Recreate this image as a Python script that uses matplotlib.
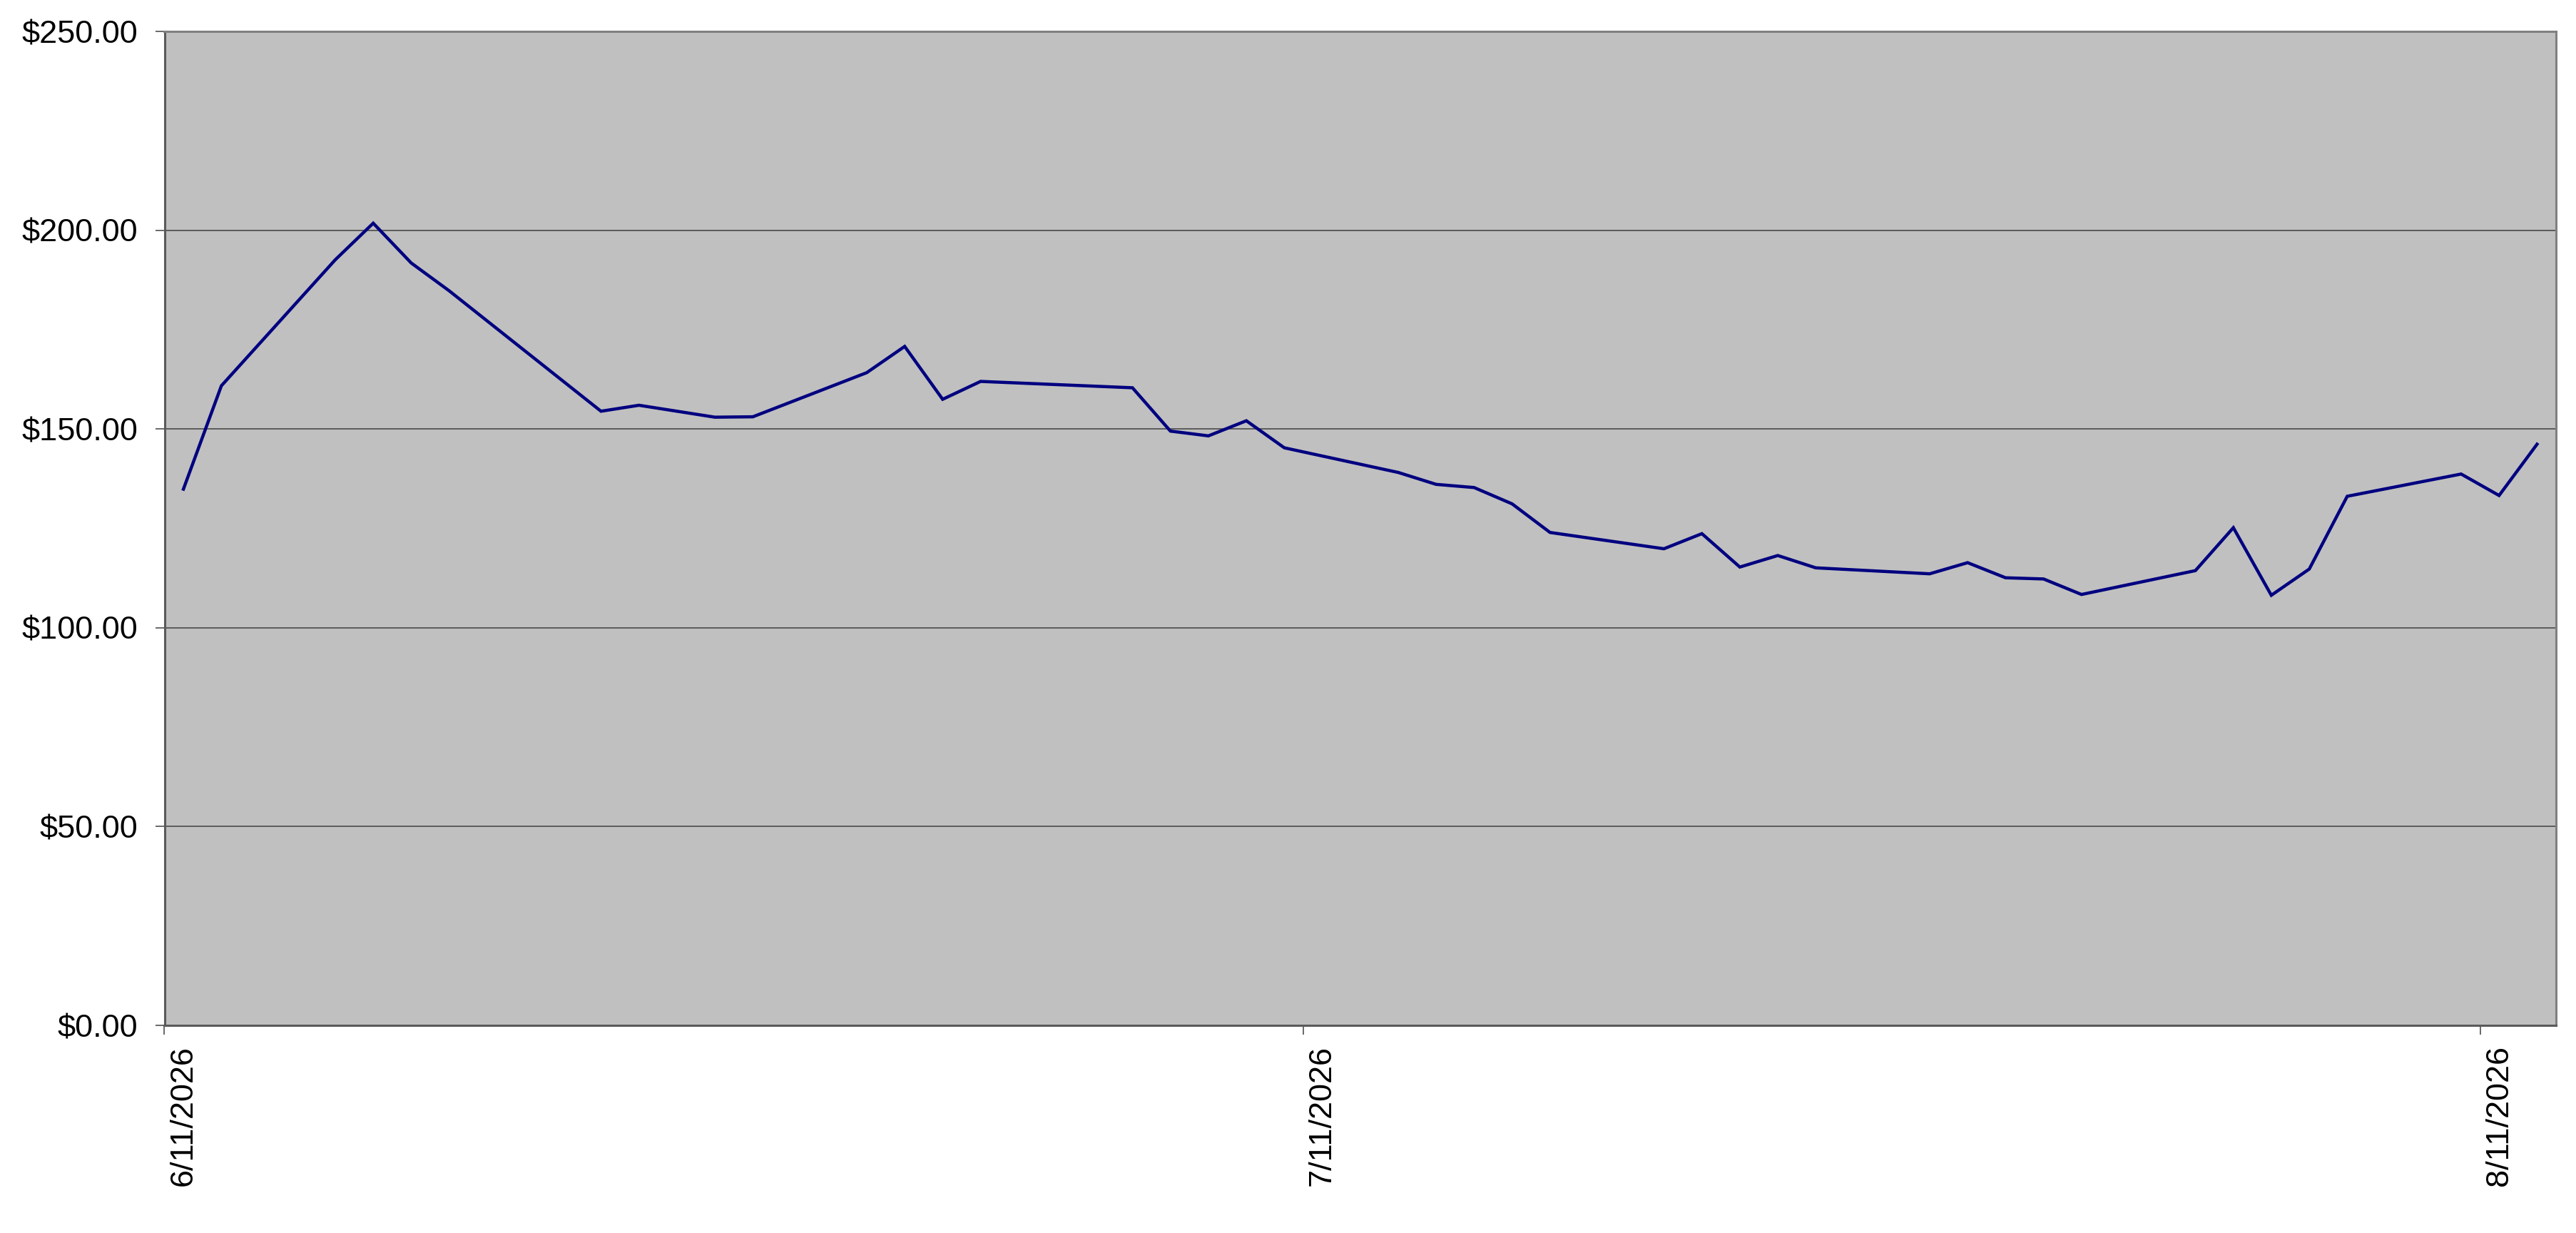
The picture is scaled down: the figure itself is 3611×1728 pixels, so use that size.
import matplotlib
matplotlib.use("Agg")
import matplotlib.pyplot as plt
import matplotlib.dates as mdates
import matplotlib.ticker as mticker
import pandas as pd

# ---- data ----
dates = ['2026-06-11', '2026-06-12', '2026-06-15', '2026-06-16', '2026-06-17', '2026-06-18',
         '2026-06-22', '2026-06-23', '2026-06-25', '2026-06-26', '2026-06-29', '2026-06-30',
         '2026-07-01', '2026-07-02', '2026-07-06', '2026-07-07', '2026-07-08', '2026-07-09',
         '2026-07-10', '2026-07-13', '2026-07-14', '2026-07-15', '2026-07-16', '2026-07-17',
         '2026-07-20', '2026-07-21', '2026-07-22', '2026-07-23', '2026-07-24', '2026-07-27',
         '2026-07-28', '2026-07-29', '2026-07-30', '2026-07-31', '2026-08-03', '2026-08-04',
         '2026-08-05', '2026-08-06', '2026-08-07', '2026-08-10', '2026-08-11', '2026-08-12']
prices = [134.9, 160.9, 192.6, 201.8, 191.8, 184.8,
          154.5, 156.0, 153.0, 153.1, 164.2, 170.8,
          157.5, 162.0, 160.4, 149.5, 148.3, 152.1,
          145.3, 139.1, 136.1, 135.3, 131.2, 124.0,
          119.9, 123.7, 115.3, 118.2, 115.1, 113.6,
          116.4, 112.6, 112.3, 108.4, 114.4, 125.2,
          108.2, 114.8, 133.1, 138.7, 133.3, 146.2]
tick_dates = ['2026-06-11', '2026-07-11', '2026-08-11']
tick_labels = ['6/11/2026', '7/11/2026', '8/11/2026']
y_ticks = [0, 50, 100, 150, 200, 250]
x_start = '2026-06-11'
x_end = '2026-08-13'

# ---- figure ----
plt.rcParams['font.family'] = ['Liberation Sans', 'DejaVu Sans']
W, H, DPI = 3611, 1728, 100
fig = plt.figure(figsize=(W / DPI, H / DPI), dpi=DPI, facecolor='white')
ax = fig.add_axes([230.5 / W, 1 - 1437 / H, (3583 - 230.5) / W, (1437 - 44.3) / H])
ax.set_facecolor('#C0C0C0')

half_day = pd.Timedelta(hours=12)
x = pd.to_datetime(dates) + half_day
ax.plot(x, prices, color='#000080', linewidth=3.2, solid_joinstyle='miter', zorder=3)

ax.set_xlim(pd.Timestamp(x_start), pd.Timestamp(x_end))
ax.set_ylim(y_ticks[0], y_ticks[-1])

# y axis
ax.set_yticks(y_ticks)
ax.yaxis.set_major_formatter(mticker.FuncFormatter(lambda v, p: '${:,.2f}'.format(v)))
ax.grid(axis='y', color='#404040', linewidth=1.1, zorder=1)
ax.set_axisbelow(True)

# x axis: tick marks at bin boundaries, labels centered in the day bin
tick_ts = pd.to_datetime(tick_dates)
ax.xaxis.set_major_locator(mticker.FixedLocator(mdates.date2num(tick_ts)))
ax.xaxis.set_major_formatter(mticker.NullFormatter())
ax.xaxis.set_minor_locator(mticker.FixedLocator(mdates.date2num(tick_ts + half_day)))
ax.xaxis.set_minor_formatter(mticker.FixedFormatter(tick_labels))

ax.tick_params(axis='y', which='major', direction='out', length=9.6, width=1.1,
               color='#404040', pad=17, labelsize=32.5, labelcolor='black')
ax.tick_params(axis='x', which='major', direction='out', length=9.6, width=1.1,
               color='#404040', labelbottom=False)
ax.tick_params(axis='x', which='minor', length=0, pad=20, labelsize=32.5,
               labelcolor='black', labelrotation=90)

for side in ['top', 'right']:
    ax.spines[side].set_color('#808080')
    ax.spines[side].set_linewidth(2.2)
for side in ['left', 'bottom']:
    ax.spines[side].set_color('#5a5a5a')
    ax.spines[side].set_linewidth(2.2)

fig.savefig('out.png', dpi=DPI, facecolor='white')
